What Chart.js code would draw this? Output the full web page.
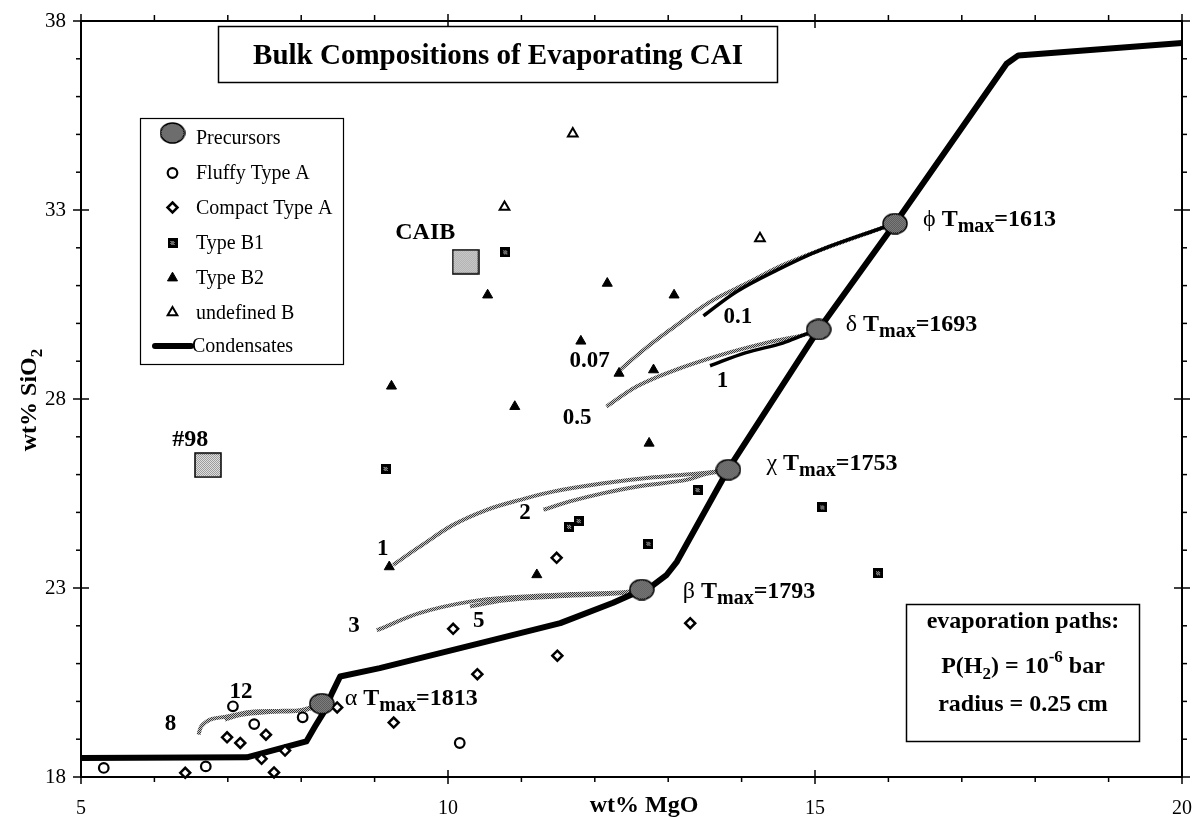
<!DOCTYPE html>
<html>
<head>
<meta charset="utf-8">
<script src="https://cdn.jsdelivr.net/npm/chart.js@4.4.1/dist/chart.umd.min.js"></script>
<style>
  html, body { margin: 0; padding: 0; background: #fff; }
  canvas { display: block; }
</style>
</head>
<body>
<canvas id="c" width="1197" height="817"></canvas>
<script>
const SERIF = '"Liberation Serif", "Times New Roman", Times, serif';

// x = wt% MgO, y = wt% SiO2

// condensation trajectory
const condensateMgO  = [5.00, 7.26, 8.07, 8.19, 8.30, 8.42, 8.53, 9.07, 10.44, 11.53, 12.25, 12.64, 12.80, 12.98, 13.12, 13.82, 15.05, 16.09, 17.61, 17.77, 20.00];
const condensateSiO2 = [18.50, 18.52, 18.94, 19.34, 19.69, 20.22, 20.66, 20.88, 21.54, 22.07, 22.61, 22.95, 23.08, 23.35, 23.70, 26.15, 29.84, 32.64, 36.87, 37.09, 37.42];

// precursors on the condensation curve
const precursorNames = ['\u03B1', '\u03B2', '\u03C7', '\u03B4', '\u03D5'];
const precursorTmax  = [1813, 1793, 1753, 1693, 1613];
const precursorMgO   = [8.28, 12.64, 13.82, 15.05, 16.09];
const precursorSiO2  = [19.94, 22.96, 26.13, 29.84, 32.64];

// bulk inclusions
const bulkNames = ['CAIB', '#98'];
const bulkMgO   = [10.24, 6.73];
const bulkSiO2  = [31.63, 26.25];

// measured CAIs
const fluffyMgO   = [5.31, 6.70, 7.07, 7.36, 8.02, 10.16];
const fluffySiO2  = [18.24, 18.28, 19.87, 19.40, 19.58, 18.90];
const compactMgO  = [6.42, 6.99, 7.17, 7.46, 7.52, 7.63, 7.78, 8.49, 9.26, 10.07, 10.40, 11.49, 11.48, 13.30];
const compactSiO2 = [18.11, 19.05, 18.90, 18.48, 19.12, 18.12, 18.70, 19.84, 19.44, 21.92, 20.72, 21.21, 23.80, 22.07];
const b1MgO   = [9.15, 10.78, 11.65, 11.78, 12.73, 13.40, 15.10, 15.86];
const b1SiO2  = [26.15, 31.88, 24.62, 24.77, 24.17, 25.59, 25.13, 23.39];
const b2MgO   = [10.54, 12.17, 13.08, 11.81, 12.33, 12.80, 9.23, 10.91, 12.74, 9.20, 11.21];
const b2SiO2  = [30.75, 31.06, 30.75, 29.53, 28.68, 28.77, 28.34, 27.80, 26.83, 23.56, 23.35];
const undefMgO  = [11.70, 10.77, 14.25];
const undefSiO2 = [35.02, 33.08, 32.25];

// evaporation paths (gray) and their end labels
const pathLabels = ['0.07', '0.5', '1', '2', '3', '5', '8', '12'];
const pathMgO = [
  [16.09, 15.89, 15.07, 14.56, 14.07, 13.57, 13.02, 12.66, 12.34],
  [15.05, 14.84, 14.39, 13.71, 13.03, 12.57, 12.16],
  [13.82, 13.48, 12.80, 12.12, 11.43, 10.98, 10.53, 10.07, 9.62, 9.25],
  [13.82, 13.48, 13.25, 12.57, 12.12, 11.66, 11.30],
  [12.64, 12.34, 11.66, 10.98, 10.30, 9.62, 9.03],
  [12.64, 12.34, 11.43, 10.75, 10.30],
  [8.28, 8.07, 7.76, 7.30, 6.99, 6.76, 6.64, 6.60],
  [8.28, 7.98, 7.57, 7.17, 6.96]
];
const pathSiO2 = [
  [32.64, 32.51, 31.94, 31.54, 31.06, 30.57, 29.82, 29.29, 28.76],
  [29.84, 29.69, 29.51, 29.16, 28.72, 28.33, 27.80],
  [26.13, 26.04, 25.93, 25.77, 25.55, 25.33, 25.07, 24.67, 24.10, 23.61],
  [26.13, 26.00, 25.86, 25.68, 25.51, 25.29, 25.07],
  [22.96, 22.88, 22.84, 22.77, 22.64, 22.34, 21.88],
  [22.96, 22.86, 22.77, 22.67, 22.51],
  [19.94, 19.78, 19.75, 19.72, 19.60, 19.52, 19.34, 19.12],
  [19.94, 19.76, 19.72, 19.64, 19.52]
];
// evaporation paths (black)
const solidPathLabels = ['0.1', '1'];
const solidPathMgO = [
  [16.09, 15.89, 15.07, 14.48, 13.93, 13.48],
  [15.05, 14.84, 14.56, 14.05, 13.57]
];
const solidPathSiO2 = [
  [32.64, 32.51, 31.94, 31.41, 30.84, 30.20],
  [29.84, 29.69, 29.48, 29.22, 28.88]
];

const xy = (xs, ys) => xs.map((v, i) => ({ x: v, y: ys[i] }));

// ---------- fills and sprites ----------
function tile(dark, light) {
  const c = document.createElement('canvas');
  c.width = 2; c.height = 2;
  const g = c.getContext('2d');
  g.fillStyle = light; g.fillRect(0, 0, 2, 2);
  g.fillStyle = dark; g.fillRect(0, 0, 1, 1); g.fillRect(1, 1, 1, 1);
  return g.createPattern(c, 'repeat');
}
function sprite(w, h, paint) {
  const c = document.createElement('canvas');
  c.width = w; c.height = h;
  paint(c.getContext('2d'), w, h);
  return c;
}
const pathGray = tile('#3a3a3a', '#c4c4c4');

const precursorSprite = sprite(26, 22, (g, w, h) => {
  g.beginPath();
  g.ellipse(w / 2, h / 2, w / 2 - 1, h / 2 - 1, 0, 0, Math.PI * 2);
  g.fillStyle = tile('#2a2a2a', '#b0b0b0');
  g.fill();
  g.lineWidth = 1.5; g.strokeStyle = '#000'; g.stroke();
});
const bulkSprite = sprite(28, 26, (g, w, h) => {
  g.fillStyle = tile('#8a8a8a', '#f2f2f2');
  g.fillRect(1, 1, w - 2, h - 2);
  g.lineWidth = 1.5; g.strokeStyle = '#000';
  g.strokeRect(1, 1, w - 2, h - 2);
});
const b1Sprite = sprite(10, 10, (g) => {
  g.fillStyle = '#000'; g.fillRect(0, 0, 10, 10);
  g.fillStyle = '#d0d0d0';
  for (let i = 3; i <= 6; i++) for (let j = 3; j <= 6; j++) if ((i + j) % 2 === 0) g.fillRect(i, j, 1, 1);
});

// ---------- datasets ----------
const markerBase = { showLine: false, clip: false, pointHoverRadius: 0 };
const datasets = [
  { ...markerBase, label: 'Precursors', data: xy(precursorMgO, precursorSiO2),
    pointStyle: precursorSprite, pointRadius: 11, order: 0 },
  { ...markerBase, label: 'bulk', data: xy(bulkMgO, bulkSiO2),
    pointStyle: bulkSprite, pointRadius: 13, order: 1 },
  { ...markerBase, label: 'Fluffy Type A', data: xy(fluffyMgO, fluffySiO2),
    pointStyle: 'circle', pointRadius: 4.8, borderWidth: 2.2, borderColor: '#000', backgroundColor: '#fff', order: 1 },
  { ...markerBase, label: 'Compact Type A', data: xy(compactMgO, compactSiO2),
    pointStyle: 'rectRot', pointRadius: 5, borderWidth: 2.5, borderColor: '#000', backgroundColor: '#fff', order: 1 },
  { ...markerBase, label: 'Type B1', data: xy(b1MgO, b1SiO2),
    pointStyle: b1Sprite, pointRadius: 5, order: 1 },
  { ...markerBase, label: 'Type B2', data: xy(b2MgO, b2SiO2),
    pointStyle: 'triangle', pointRadius: 5.8, borderWidth: 1, borderColor: '#000', backgroundColor: '#000', order: 1 },
  { ...markerBase, label: 'undefined B', data: xy(undefMgO, undefSiO2),
    pointStyle: 'triangle', pointRadius: 5.6, borderWidth: 2, borderColor: '#000', backgroundColor: '#fff', order: 1 },
  { label: 'Condensates', data: xy(condensateMgO, condensateSiO2), showLine: true,
    borderColor: '#000', borderWidth: 6, borderJoinStyle: 'round', pointRadius: 0, tension: 0, order: 3 }
];
pathLabels.forEach((lab, i) => datasets.push({
  label: 'path ' + lab, data: xy(pathMgO[i], pathSiO2[i]), showLine: true,
  borderColor: pathGray, borderWidth: 4, pointRadius: 0, tension: 0.35, order: 4
}));
solidPathLabels.forEach((lab, i) => datasets.push({
  label: 'path ' + lab, data: xy(solidPathMgO[i], solidPathSiO2[i]), showLine: true,
  borderColor: '#000', borderWidth: 3.5, pointRadius: 0, tension: 0.35, order: 2
}));

// ---------- text helpers ----------
function richWidth(ctx, parts) {
  let w = 0;
  parts.forEach(p => { ctx.font = p[1]; w += ctx.measureText(p[0]).width; });
  return w;
}
function drawRich(ctx, parts, x, y, align) {
  const w = richWidth(ctx, parts);
  let cx = align === 'center' ? x - w / 2 : (align === 'right' ? x - w : x);
  ctx.textAlign = 'left';
  ctx.textBaseline = 'alphabetic';
  parts.forEach(p => {
    ctx.font = p[1];
    ctx.fillText(p[0], cx, y + (p[2] || 0));
    cx += ctx.measureText(p[0]).width;
  });
}
const bold = s => 'bold ' + s + 'px ' + SERIF;
const reg = s => s + 'px ' + SERIF;

function drawMarker(ctx, ds, x, y) {
  const st = ds.pointStyle;
  if (typeof st === 'object') { ctx.drawImage(st, x - st.width / 2, y - st.height / 2); return; }
  const r = ds.pointRadius;
  ctx.beginPath();
  if (st === 'circle') ctx.arc(x, y, r, 0, Math.PI * 2);
  else if (st === 'rectRot') { ctx.moveTo(x, y - r); ctx.lineTo(x + r, y); ctx.lineTo(x, y + r); ctx.lineTo(x - r, y); }
  else if (st === 'triangle') {
    for (let k = 0; k < 3; k++) {
      const a = k * 2 * Math.PI / 3;
      ctx[k ? 'lineTo' : 'moveTo'](x + Math.sin(a) * r, y - Math.cos(a) * r);
    }
  }
  ctx.closePath();
  ctx.fillStyle = ds.backgroundColor; ctx.fill();
  ctx.lineWidth = ds.borderWidth; ctx.strokeStyle = ds.borderColor; ctx.stroke();
}

// label anchors in data units (centre of the label text)
const pathLabelAt = {
  '0.1': [13.95, 30.22], '0.07': [11.93, 29.06], '1d': [13.74, 28.53], '0.5': [11.76, 27.55],
  '1c': [9.11, 24.09], '2': [11.05, 25.04], '3': [8.72, 22.05], '5': [10.42, 22.17],
  '8': [6.22, 19.45], '12': [7.18, 20.31]
};
const bulkLabelAt = [[9.69, 32.44], [6.49, 26.98]];
// pixel offset of each precursor label from its marker (start x, baseline)
const precursorLabelOffset = [[23, 1], [41, 8], [38, 0], [27, 2], [28, 2]];

const decorations = {
  id: 'decorations',
  afterDatasetsDraw(chart) {
    const { ctx, chartArea: a, scales: { x, y } } = chart;
    ctx.save();
    ctx.fillStyle = '#000';
    ctx.strokeStyle = '#000';

    // frame
    ctx.lineWidth = 2;
    ctx.strokeRect(a.left, a.top, a.right - a.left, a.bottom - a.top);

    // tick marks on all four sides
    const seg = (x1, y1, x2, y2) => { ctx.beginPath(); ctx.moveTo(x1, y1); ctx.lineTo(x2, y2); ctx.stroke(); };
    ctx.lineWidth = 1.5;
    for (let v = x.min; v <= x.max; v++) {
      const px = x.getPixelForValue(v);
      const major = v % 5 === 0;
      seg(px, a.bottom - (major ? 7 : 0), px, a.bottom + (major ? 7 : 5));
      seg(px, a.top + (major ? 7 : 0), px, a.top - (major ? 7 : 6));
    }
    for (let v = y.min; v <= y.max; v++) {
      const py = y.getPixelForValue(v);
      const major = (v - 18) % 5 === 0;
      seg(a.left + (major ? 8 : 0), py, a.left - (major ? 8 : 5), py);
      seg(a.right - (major ? 8 : 0), py, a.right + (major ? 8 : 5), py);
    }

    // axis titles
    ctx.fillStyle = '#000';
    drawRich(ctx, [['wt% MgO', bold(24)]], 644, 812, 'center');
    ctx.save();
    ctx.translate(36, 400);
    ctx.rotate(-Math.PI / 2);
    drawRich(ctx, [['wt% SiO', bold(24)], ['2', bold(17), 6]], 0, 0, 'center');
    ctx.restore();

    // title box
    ctx.fillStyle = '#fff';
    ctx.fillRect(218, 26, 560, 57);
    ctx.lineWidth = 1.5;
    ctx.strokeRect(218.5, 26.5, 559, 56);
    ctx.fillStyle = '#000';
    drawRich(ctx, [['Bulk Compositions of Evaporating CAI', bold(29)]], 498, 64, 'center');

    // legend
    const L = { left: 140, top: 118, right: 343, bottom: 364 };
    ctx.fillStyle = '#fff';
    ctx.fillRect(L.left, L.top, L.right - L.left, L.bottom - L.top);
    ctx.lineWidth = 1.2;
    ctx.strokeRect(L.left + 0.5, L.top + 0.5, L.right - L.left, L.bottom - L.top);
    const rows = [
      ['Precursors', 144], ['Fluffy Type A', 179], ['Compact Type A', 213.5],
      ['Type B1', 249], ['Type B2', 284], ['undefined B', 318.5]
    ];
    rows.forEach(([name, base]) => {
      const ds = chart.data.datasets.find(d => d.label === name);
      drawMarker(ctx, ds, 172.5, name === 'Precursors' ? base - 11 : base - 6);
      ctx.fillStyle = '#000';
      drawRich(ctx, [[name, reg(20)]], 196, base, 'left');
    });
    ctx.lineWidth = 6; ctx.lineCap = 'round';
    seg(155, 346, 191, 346);
    ctx.lineCap = 'butt';
    drawRich(ctx, [['Condensates', reg(20)]], 192, 352, 'left');

    // evaporation conditions box
    ctx.fillStyle = '#fff';
    ctx.fillRect(906, 604, 234, 138);
    ctx.lineWidth = 1.5;
    ctx.strokeRect(906.5, 604.5, 233, 137);
    ctx.fillStyle = '#000';
    drawRich(ctx, [['evaporation paths:', bold(24)]], 1023, 628, 'center');
    drawRich(ctx, [['P(H', bold(24)], ['2', bold(17), 6], [') = 10', bold(24)], ['-6', bold(17), -11], [' bar', bold(24)]], 1023, 673, 'center');
    drawRich(ctx, [['radius = 0.25 cm', bold(24)]], 1023, 711, 'center');

    // precursor labels
    precursorNames.forEach((g, i) => {
      const px = x.getPixelForValue(precursorMgO[i]);
      const py = y.getPixelForValue(precursorSiO2[i]);
      const [dx, dy] = precursorLabelOffset[i];
      drawRich(ctx, [[g + ' ', reg(24)], ['T', bold(24)], ['max', bold(20), 6], ['=' + precursorTmax[i], bold(24)]],
        px + dx, py + dy, 'left');
    });

    // bulk inclusion labels
    bulkNames.forEach((n, i) => {
      const [mx, my] = bulkLabelAt[i];
      drawRich(ctx, [[n, bold(24)]], x.getPixelForValue(mx), y.getPixelForValue(my) + 8, 'center');
    });

    // evaporation path labels
    Object.keys(pathLabelAt).forEach(k => {
      const [mx, my] = pathLabelAt[k];
      const text = k.replace(/[cd]$/, '');
      drawRich(ctx, [[text, bold(23)]], x.getPixelForValue(mx), y.getPixelForValue(my) + 8, 'center');
    });

    ctx.restore();
  }
};

new Chart(document.getElementById('c'), {
  type: 'scatter',
  data: { datasets },
  options: {
    responsive: false,
    animation: false,
    devicePixelRatio: 1,
    layout: { padding: { top: 21, right: 15, left: 0, bottom: 0 } },
    plugins: { legend: { display: false }, tooltip: { enabled: false } },
    scales: {
      x: {
        type: 'linear', min: 5, max: 20,
        ticks: { stepSize: 5, color: '#000', font: { family: SERIF, size: 20 }, padding: 20, maxRotation: 0 },
        grid: { display: false, drawTicks: false },
        border: { display: false },
        afterFit: s => { s.height = 40; s.paddingLeft = 0; s.paddingRight = 0; }
      },
      y: {
        type: 'linear', min: 18, max: 38,
        ticks: { stepSize: 5, color: '#000', font: { family: SERIF, size: 21 }, padding: 15 },
        grid: { display: false, drawTicks: false },
        border: { display: false },
        afterFit: s => { s.width = 81; s.paddingTop = 0; s.paddingBottom = 0; }
      }
    }
  },
  plugins: [decorations]
});
</script>
</body>
</html>
